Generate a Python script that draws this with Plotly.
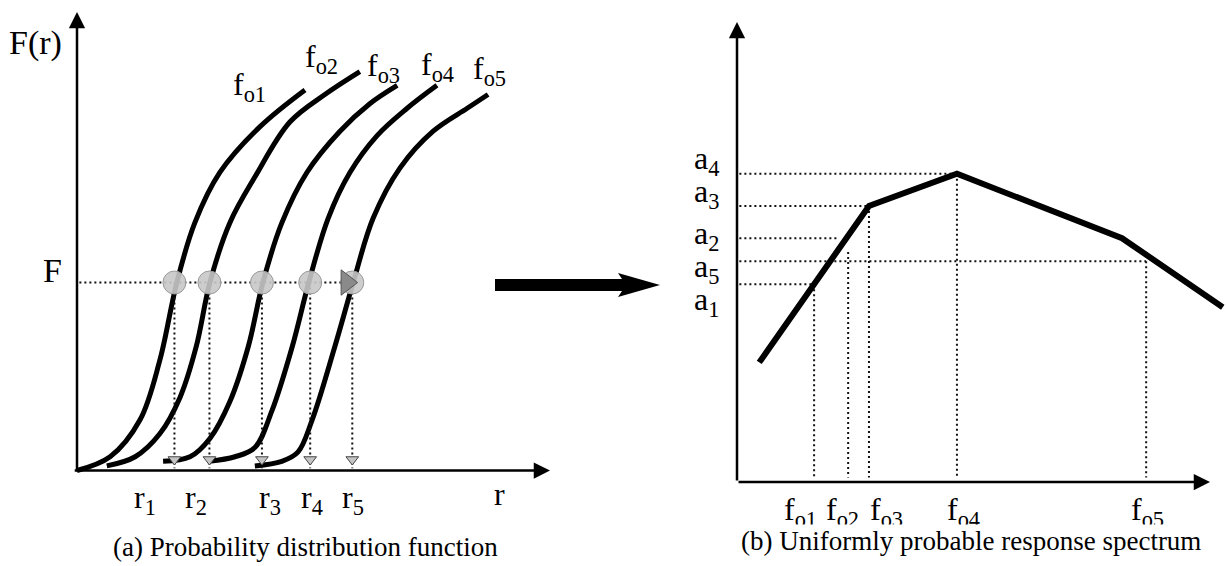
import plotly.graph_objects as go

# ---------------- DATA ----------------
# (a) probability distribution curves F(r) for five frequencies
curve_names = ["f<sub>o1</sub>", "f<sub>o2</sub>", "f<sub>o3</sub>", "f<sub>o4</sub>", "f<sub>o5</sub>"]
r_c1 = [0.00, 0.70, 1.33, 1.75, 2.11, 2.49, 3.02, 3.87, 4.82]
F_c1 = [0.00, 0.03, 0.11, 0.24, 0.41, 0.54, 0.65, 0.75, 0.83]
r_c2 = [0.63, 1.23, 1.75, 2.18, 2.52, 2.81, 3.23, 3.76, 4.50, 5.24, 5.98]
F_c2 = [0.01, 0.03, 0.08, 0.16, 0.27, 0.41, 0.54, 0.64, 0.76, 0.82, 0.87]
r_c3 = [1.82, 2.39, 2.81, 3.23, 3.62, 3.93, 4.33, 4.86, 5.56, 6.19, 6.77]
F_c3 = [0.02, 0.03, 0.07, 0.15, 0.27, 0.41, 0.54, 0.65, 0.74, 0.80, 0.84]
r_c4 = [2.79, 3.34, 3.76, 4.12, 4.55, 4.90, 5.31, 5.77, 6.34, 6.98, 7.61]
F_c4 = [0.02, 0.03, 0.05, 0.13, 0.27, 0.41, 0.55, 0.65, 0.73, 0.79, 0.84]
r_c5 = [3.76, 4.33, 4.67, 4.97, 5.45, 5.84, 6.26, 6.83, 7.53, 8.25, 8.69]
F_c5 = [0.01, 0.02, 0.04, 0.11, 0.27, 0.41, 0.55, 0.66, 0.74, 0.79, 0.82]

F_level = 0.41
r_labels = ["r<sub>1</sub>", "r<sub>2</sub>", "r<sub>3</sub>", "r<sub>4</sub>", "r<sub>5</sub>"]
r_cross = [2.06, 2.80, 3.91, 4.93, 5.82]
r_pointer = 5.70          # grey pointer at the F level near r5
F_arrow_head = 0.024      # grey arrow heads of the dotted projections

# (b) uniformly probable response spectrum
a_labels = ["a<sub>1</sub>", "a<sub>2</sub>", "a<sub>3</sub>", "a<sub>4</sub>", "a<sub>5</sub>"]
f_labels = ["f<sub>o1</sub>", "f<sub>o2</sub>", "f<sub>o3</sub>", "f<sub>o4</sub>", "f<sub>o5</sub>"]
spec_f = [0.47, 1.63, 2.79, 4.65, 8.14, 10.27]
spec_a = [0.26, 0.43, 0.60, 0.67, 0.53, 0.38]
f_o = [1.63, 2.35, 2.79, 4.65, 8.65]
a_o = [0.43, 0.53, 0.60, 0.67, 0.48]
a_guide_end = [1.63, 2.11, 2.79, 4.65, 8.65]
f_guide_top = [0.43, 0.50, 0.60, 0.67, 0.48]

# ---------------- LAYOUT HELPERS ----------------
W, H = 1226, 566
FONT = "Liberation Serif, Times New Roman, serif"
DOT = "2px,3px"


def P(x, y):
    return x / W, 1 - y / H


fig = go.Figure()

# left panel curves
for rc, Fc in [(r_c1, F_c1), (r_c2, F_c2), (r_c3, F_c3), (r_c4, F_c4), (r_c5, F_c5)]:
    fig.add_trace(go.Scatter(x=rc, y=Fc, mode="lines", xaxis="x", yaxis="y",
                             line=dict(color="black", width=5, shape="spline", smoothing=1.0),
                             hoverinfo="skip", showlegend=False))

# horizontal dotted F line
fig.add_trace(go.Scatter(x=[0.05, r_pointer], y=[F_level, F_level], mode="lines", xaxis="x", yaxis="y",
                         line=dict(color="#111", width=2, dash=DOT), showlegend=False, hoverinfo="skip"))
# vertical dotted projections
for rv in r_cross:
    fig.add_trace(go.Scatter(x=[rv, rv], y=[F_level, 0.005], mode="lines", xaxis="x", yaxis="y",
                             line=dict(color="#111", width=2, dash=DOT), showlegend=False, hoverinfo="skip"))
fig.add_trace(go.Scatter(x=r_cross, y=[F_arrow_head] * 5, mode="markers", xaxis="x", yaxis="y",
                         marker=dict(symbol="triangle-down", size=11, color="#c4c4c4",
                                     line=dict(color="#444", width=1)),
                         showlegend=False, hoverinfo="skip"))
# grey circles at intersections
fig.add_trace(go.Scatter(x=r_cross, y=[F_level] * 5, mode="markers", xaxis="x", yaxis="y",
                         marker=dict(symbol="circle", size=23, color="rgba(200,200,200,0.9)",
                                     line=dict(color="#9a9a9a", width=1)),
                         showlegend=False, hoverinfo="skip"))
fig.add_trace(go.Scatter(x=[r_pointer], y=[F_level], mode="markers", xaxis="x", yaxis="y",
                         marker=dict(symbol="triangle-right", size=22, color="#8a8a8a",
                                     line=dict(color="#555", width=1)),
                         showlegend=False, hoverinfo="skip"))

# right panel guides
for fe, av in zip(a_guide_end, a_o):
    fig.add_trace(go.Scatter(x=[0.05, fe], y=[av, av], mode="lines", xaxis="x2", yaxis="y2",
                             line=dict(color="#111", width=2, dash=DOT), showlegend=False, hoverinfo="skip"))
for fv, at in zip(f_o, f_guide_top):
    fig.add_trace(go.Scatter(x=[fv, fv], y=[at, 0.01], mode="lines", xaxis="x2", yaxis="y2",
                             line=dict(color="#111", width=2, dash=DOT), showlegend=False, hoverinfo="skip"))
# spectrum line
fig.add_trace(go.Scatter(x=spec_f, y=spec_a, mode="lines", xaxis="x2", yaxis="y2",
                         line=dict(color="black", width=6), showlegend=False, hoverinfo="skip"))

ann = []


def axis_arrow(xr, yr, x0, y0, x1, y1):
    ann.append(dict(x=x1, y=y1, ax=x0, ay=y0, xref=xr, yref=yr, axref=xr, ayref=yr,
                    text="", showarrow=True, arrowhead=2, arrowsize=1.3, arrowwidth=2.5,
                    arrowcolor="black"))


# axes with arrows
axis_arrow("x", "y", -0.08, 0, 10.0, 0)
axis_arrow("x", "y", 0, -0.005, 0, 1.0)
axis_arrow("x2", "y2", 0, 0, 10.0, 0)
axis_arrow("x2", "y2", 0, 0, 0, 1.0)


def text(s, px, py, size=32, bg=None):
    x, y = P(px, py)
    d = dict(x=x, y=y, xref="paper", yref="paper", text=s, showarrow=False,
             xanchor="center", yanchor="middle", font=dict(family=FONT, size=size, color="black"))
    if bg:
        d["bgcolor"] = bg
    ann.append(d)


text("F(r)", 35, 43, 34)
text("F", 52, 270, 34)
for s, (px, py) in zip(curve_names, [(249, 87), (321, 58), (384, 68), (437, 67), (489, 70)]):
    text(s, px, py)
for s, px in zip(r_labels, [145, 196, 270, 312, 353]):
    text(s, px, 500)
text("r", 499, 494)
for s, py in zip(a_labels, [301, 235, 193, 160, 268]):
    text(s, 706, py)
for s, px in zip(f_labels, [800, 842, 886, 963, 1147]):
    text(s, px, 511)
text("(a) Probability distribution function", 305, 547, 27)
text("(b) Uniformly probable response spectrum", 971, 541, 27, bg="white")

# big transfer arrow
x1, y1 = P(495, 279); x2, y2 = P(622, 291); x3, y3 = P(618, 273); x4, y4 = P(660, 285); x5, y5 = P(618, 297)
shapes = [dict(type="path", xref="paper", yref="paper",
               path=f"M{x1},{y1} L{x2},{y1} L{x3},{y3} L{x4},{y4} L{x5},{y5} L{x2},{y2} L{x1},{y2} Z",
               fillcolor="black", line=dict(color="black", width=0))]

hidden = dict(visible=False, showgrid=False, zeroline=False)
fig.update_layout(
    width=W, height=H, margin=dict(l=0, r=0, t=0, b=0),
    paper_bgcolor="white", plot_bgcolor="white",
    xaxis=dict(domain=[0, 620 / W], range=[-77 / 47.3, (620 - 77) / 47.3], **hidden),
    yaxis=dict(domain=[0, 1], range=[(470.5 - 566) / 458.5, 470.5 / 458.5], **hidden),
    xaxis2=dict(domain=[620 / W, 1], range=[(620 - 737) / 47.3, (1226 - 737) / 47.3], **hidden),
    yaxis2=dict(domain=[0, 1], range=[(482 - 566) / 460, 482 / 460], **hidden),
    annotations=ann, shapes=shapes, showlegend=False,
)

fig.write_html("out.html", config={"displayModeBar": False},
               post_script="document.body.style.margin='0px';")
